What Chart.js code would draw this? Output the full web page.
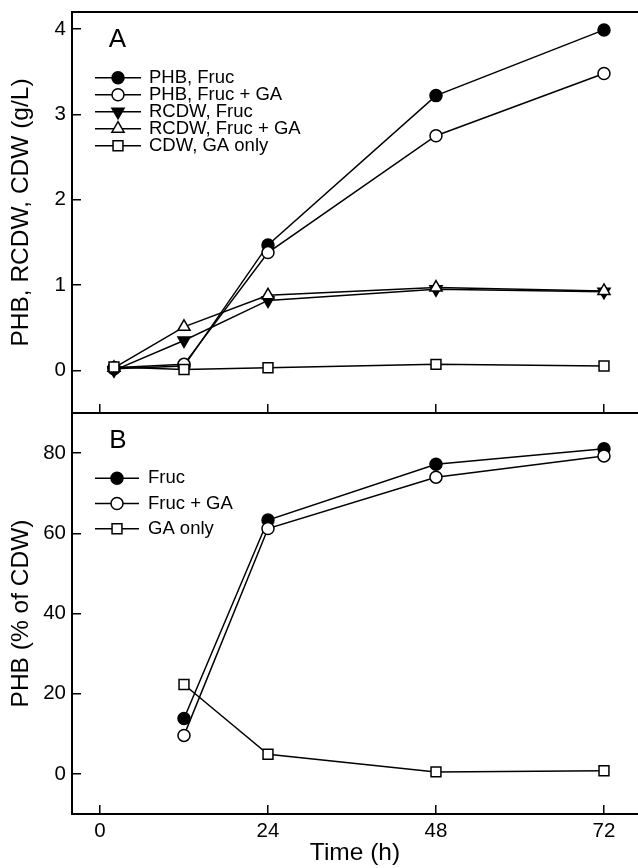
<!DOCTYPE html>
<html><head><meta charset="utf-8">
<script src="https://cdn.jsdelivr.net/npm/chart.js@4.4.1/dist/chart.umd.min.js"></script>
<style>
html,body{margin:0;padding:0;background:#fff;width:638px;height:868px;overflow:hidden;}
#wa{position:absolute;left:0;top:0;width:638px;height:430px;}
#wb{position:absolute;left:0;top:400px;width:638px;height:468px;}
</style></head><body>
<div id="wa"><canvas id="ca"></canvas></div>
<div id="wb"><canvas id="cb"></canvas></div>
<script>
// ---- data: panel A (g/L) ----
const timeA = [2, 12, 24, 48, 72];
const phbFruc    = [0.02, 0.05, 1.47, 3.22, 3.99];
const phbFrucGA  = [0.03, 0.07, 1.38, 2.75, 3.48];
const rcdwFruc   = [0.00, 0.35, 0.82, 0.95, 0.92];
const rcdwFrucGA = [0.03, 0.51, 0.88, 0.97, 0.93];
const cdwGA      = [0.04, 0.01, 0.03, 0.07, 0.05];
const labelsA = ['PHB, Fruc', 'PHB, Fruc + GA', 'RCDW, Fruc', 'RCDW, Fruc + GA', 'CDW, GA only'];

// ---- data: panel B (% of CDW) ----
const timeB = [12, 24, 48, 72];
const pctFruc   = [13.8, 63.3, 77.2, 81.1];
const pctFrucGA = [9.6, 61.2, 74.0, 79.3];
const pctGA     = [22.3, 4.9, 0.5, 0.8];
const labelsB = ['Fruc', 'Fruc + GA', 'GA only'];

// ---- tick labels ----
const xTicks = [0, 24, 48, 72];
const yTicksA = [0, 1, 2, 3, 4];
const yTicksB = [0, 20, 40, 60, 80];

const FONT = "'Liberation Sans', Arial, Helvetica, sans-serif";
Chart.defaults.font.family = FONT;
Chart.defaults.color = '#000';

const MK = {
  filledCircle: {pointStyle:'circle', rotation:0, radius:6, fill:'#000', order:4},
  openCircle:   {pointStyle:'circle', rotation:0, radius:6, fill:'#fff', order:3},
  downTri:      {pointStyle:'triangle', rotation:180, radius:7, fill:'#000', order:2},
  upTri:        {pointStyle:'triangle', rotation:0, radius:7, fill:'#fff', order:1},
  square:       {pointStyle:'rect', rotation:0, radius:7, fill:'#fff', order:0}
};

function ds(label, xs, ys, mk) {
  return {
    label: label,
    data: xs.map((x, i) => ({x: x, y: ys[i]})),
    order: mk.order,
    borderColor: '#000', borderWidth: 1.5, tension: 0,
    pointStyle: mk.pointStyle, pointRotation: mk.rotation,
    pointRadius: mk.radius, pointHoverRadius: mk.radius,
    pointBackgroundColor: mk.fill, pointBorderColor: '#000', pointBorderWidth: 1.5,
    _mk: mk
  };
}

function drawMarker(ctx, mk, x, y) {
  ctx.save();
  ctx.fillStyle = mk.fill; ctx.strokeStyle = '#000'; ctx.lineWidth = 1.5;
  ctx.beginPath();
  const r = mk.radius;
  if (mk.pointStyle === 'circle') {
    ctx.arc(x, y, r, 0, Math.PI * 2);
  } else if (mk.pointStyle === 'rect') {
    const s = r * Math.SQRT1_2;
    ctx.rect(x - s, y - s, 2 * s, 2 * s);
  } else {
    let a = mk.rotation * Math.PI / 180;
    for (let k = 0; k < 3; k++) {
      const px = x + Math.sin(a) * r, py = y - Math.cos(a) * r;
      if (k === 0) ctx.moveTo(px, py); else ctx.lineTo(px, py);
      a += 2 * Math.PI / 3;
    }
    ctx.closePath();
  }
  ctx.fill(); ctx.stroke();
  ctx.restore();
}

const decor = {
  id: 'decor',
  afterDraw(chart, args, opts) {
    const ctx = chart.ctx;
    const ca = chart.chartArea;
    ctx.save();
    if (opts.topLine) {
      ctx.strokeStyle = '#000'; ctx.lineWidth = 2;
      ctx.beginPath(); ctx.moveTo(ca.left - 1, ca.top); ctx.lineTo(ca.right, ca.top); ctx.stroke();
    }
    // panel letter
    ctx.fillStyle = '#000';
    ctx.font = '26px ' + FONT;
    ctx.textAlign = 'center'; ctx.textBaseline = 'middle';
    ctx.fillText(opts.letter, opts.letterX, opts.letterY);
    // legend
    ctx.font = opts.legendFont + 'px ' + FONT;
    ctx.textAlign = 'left';
    chart.data.datasets.forEach((d, i) => {
      const y = opts.legY + i * opts.legStep;
      ctx.strokeStyle = '#000'; ctx.lineWidth = 1.5;
      ctx.beginPath(); ctx.moveTo(opts.legX0, y); ctx.lineTo(opts.legX1, y); ctx.stroke();
      drawMarker(ctx, d._mk, (opts.legX0 + opts.legX1) / 2, y);
      ctx.fillStyle = '#000';
      ctx.fillText(d.label, opts.legText, y);
    });
    ctx.restore();
  }
};

function axisX(showLabels, h) {
  return {
    type: 'linear', position: 'bottom', min: -4, max: 76.86,
    afterBuildTicks: s => { s.ticks = xTicks.map(v => ({value: v})); },
    ticks: {display: showLabels, font: {size: 20.5}, padding: 14, color: '#000'},
    grid: {drawOnChartArea: false, drawTicks: true, tickLength: -9, color: '#000', lineWidth: 1.5},
    border: {display: true, color: '#000', width: 2},
    title: showLabels ? {display: true, text: 'Time (h)', font: {size: 24.5, lineHeight: 1.2}, padding: {top: 0, bottom: 0}, color: '#000'} : {display: false},
    afterFit: s => { s.height = h; s.paddingLeft = 0; s.paddingRight = 0; }
  };
}
function axisY(min, max, ticksArr, title) {
  return {
    type: 'linear', position: 'left', min: min, max: max,
    afterBuildTicks: s => { s.ticks = ticksArr.map(v => ({value: v})); },
    ticks: {font: {size: 20.5}, padding: 15, color: '#000'},
    grid: {drawOnChartArea: false, drawTicks: true, tickLength: -9, color: '#000', lineWidth: 1.5},
    border: {display: true, color: '#000', width: 2},
    title: {display: true, text: title, font: {size: 24.5, lineHeight: 1.2}, padding: {top: 7, bottom: 0}, color: '#000'},
    afterFit: s => { s.width = 72; s.paddingTop = 0; s.paddingBottom = 0; }
  };
}

new Chart(document.getElementById('ca'), {
  type: 'line',
  data: {datasets: [
    ds(labelsA[0], timeA, phbFruc, MK.filledCircle),
    ds(labelsA[1], timeA, phbFrucGA, MK.openCircle),
    ds(labelsA[2], timeA, rcdwFruc, MK.downTri),
    ds(labelsA[3], timeA, rcdwFrucGA, MK.upTri),
    ds(labelsA[4], timeA, cdwGA, MK.square)
  ]},
  options: {
    responsive: true, maintainAspectRatio: false, animation: false,
    layout: {autoPadding: false, padding: {top: 12, left: 0, right: 0, bottom: 0}},
    plugins: {legend: {display: false}, tooltip: {enabled: false},
      decor: {topLine: true, letter: 'A', letterX: 117.5, letterY: 40,
              legendFont: 18.5, legY: 77.7, legStep: 17, legX0: 95, legX1: 141, legText: 149}},
    scales: {x: axisX(false, 17), y: axisY(-0.5, 4.2, yTicksA, 'PHB, RCDW, CDW (g/L)')}
  },
  plugins: [decor]
});

new Chart(document.getElementById('cb'), {
  type: 'line',
  data: {datasets: [
    ds(labelsB[0], timeB, pctFruc, MK.filledCircle),
    ds(labelsB[1], timeB, pctFrucGA, MK.openCircle),
    ds(labelsB[2], timeB, pctGA, MK.square)
  ]},
  options: {
    responsive: true, maintainAspectRatio: false, animation: false,
    layout: {autoPadding: false, padding: {top: 13, left: 0, right: 0, bottom: 0}},
    plugins: {legend: {display: false}, tooltip: {enabled: false},
      decor: {topLine: false, letter: 'B', letterX: 118, letterY: 41,
              legendFont: 18.5, legY: 78.3, legStep: 25.2, legX0: 95, legX1: 139, legText: 148}},
    scales: {x: axisX(true, 54), y: axisY(-10, 90, yTicksB, 'PHB (% of CDW)')}
  },
  plugins: [decor]
});
</script>
</body></html>
